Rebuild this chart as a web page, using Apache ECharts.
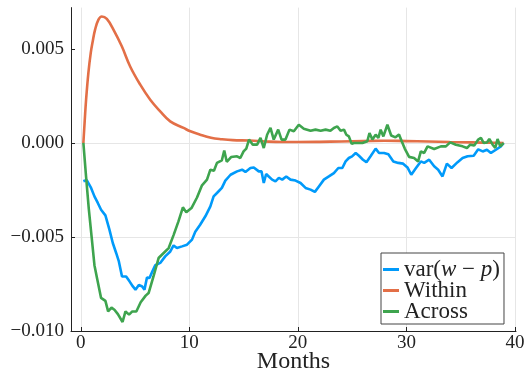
<!DOCTYPE html>
<html>
<head>
<meta charset="utf-8">
<script src="https://cdn.jsdelivr.net/npm/echarts@6/dist/echarts.min.js"></script>
<style>
  html, body { margin: 0; padding: 0; background: #fff; }
  #chart { width: 525px; height: 374px; }
</style>
</head>
<body>
<div id="chart"></div>
<script>
// Responses by months since the shock; values in units of 1e-3.
const varMonths = [0.24, 0.55, 0.95, 1.26, 1.57, 1.87, 2.27, 2.64, 2.95, 3.26, 3.51, 3.8, 4.18, 4.49, 4.8, 5.04, 5.35, 5.66, 5.87, 6.1, 6.33, 6.6, 6.86, 7.32, 7.78, 8.25, 8.55, 8.86, 9.33, 9.79, 10.25, 10.55, 11.0, 11.48, 11.94, 12.24, 12.55, 13.0, 13.32, 13.8, 14.4, 14.86, 15.17, 15.63, 15.94, 16.4, 16.65, 16.86, 17.08, 17.32, 17.63, 17.94, 18.25, 18.56, 18.93, 19.32, 19.79, 20.25, 20.71, 21.17, 21.57, 21.94, 22.4, 22.86, 23.32, 23.73, 24.1, 24.4, 24.7, 25.0, 25.33, 25.63, 26.0, 26.32, 26.7, 27.17, 27.48, 27.94, 28.34, 28.8, 29.25, 29.7, 30.1, 30.45, 30.87, 31.33, 31.64, 32.1, 32.56, 32.93, 33.33, 33.73, 34.16, 34.72, 35.18, 35.64, 36.2, 36.62, 37.03, 37.42, 37.79, 38.25, 38.7, 38.96];
const varValues = [-2.04, -1.97, -2.39, -2.84, -3.19, -3.55, -3.85, -4.61, -5.32, -5.85, -6.3, -7.1, -7.1, -7.36, -7.63, -7.8, -7.55, -7.63, -7.8, -7.16, -7.18, -6.83, -6.5, -6.38, -6.03, -5.77, -5.45, -5.59, -5.5, -5.41, -5.14, -4.72, -4.35, -3.9, -3.37, -2.84, -2.66, -2.39, -2.0, -1.69, -1.51, -1.42, -1.54, -1.33, -1.3, -1.51, -1.51, -2.13, -1.65, -1.78, -1.95, -2.04, -1.86, -1.95, -1.78, -1.95, -2.0, -2.13, -2.39, -2.48, -2.6, -2.31, -1.95, -1.78, -1.6, -1.33, -1.33, -0.98, -0.8, -0.71, -0.53, -0.68, -0.89, -1.02, -0.71, -0.3, -0.53, -0.53, -0.6, -0.98, -1.06, -1.1, -1.3, -1.69, -1.35, -0.98, -1.06, -0.89, -1.24, -1.42, -1.78, -1.1, -1.33, -1.02, -0.8, -0.71, -0.68, -0.34, -0.45, -0.36, -0.53, -0.36, -0.18, 0.0];

const withinMonths = [0.24, 0.37, 0.49, 0.7, 0.92, 1.1, 1.32, 1.63, 1.94, 2.4, 3.01, 3.78, 4.55, 5.48, 6.4, 7.32, 8.24, 9.47, 10.1, 11.0, 12.0, 13.0, 14.0, 15.6, 17.0, 18.5, 20.0, 22.0, 24.0, 26.0, 28.0, 30.0, 32.0, 34.0, 36.0, 38.0, 38.96];
const withinValues = [0.0, 1.24, 2.3, 3.72, 4.79, 5.4, 6.03, 6.56, 6.73, 6.6, 6.03, 5.14, 4.07, 3.1, 2.3, 1.68, 1.15, 0.8, 0.62, 0.44, 0.28, 0.2, 0.15, 0.13, 0.08, 0.05, 0.05, 0.06, 0.08, 0.1, 0.12, 0.1, 0.08, 0.05, 0.03, 0.01, 0.0];

const acrossMonths = [0.24, 0.49, 0.74, 1.0, 1.26, 1.5, 1.87, 2.27, 2.52, 2.83, 3.1, 3.42, 3.85, 4.12, 4.45, 4.75, 5.12, 5.52, 5.98, 6.25, 6.7, 7.17, 7.78, 8.1, 8.55, 9.0, 9.41, 9.72, 10.2, 10.71, 11.17, 11.63, 11.94, 12.27, 12.55, 13.0, 13.22, 13.45, 13.63, 13.85, 13.97, 14.4, 14.7, 15.0, 15.25, 15.5, 15.85, 16.25, 16.56, 16.86, 17.17, 17.48, 17.78, 18.19, 18.5, 18.86, 19.23, 19.63, 20.09, 20.55, 21.17, 21.63, 22.1, 22.56, 23.0, 23.32, 23.64, 23.94, 24.25, 24.47, 24.7, 24.96, 25.17, 25.48, 25.95, 26.4, 26.6, 26.87, 27.17, 27.42, 27.63, 27.88, 28.25, 28.6, 29.0, 29.32, 29.57, 29.85, 30.25, 30.71, 31.08, 31.33, 31.64, 31.95, 32.56, 33.18, 33.64, 34.04, 34.56, 35.18, 35.58, 35.88, 36.25, 36.62, 36.87, 37.12, 37.42, 37.64, 37.95, 38.19, 38.4, 38.65, 38.96];
const acrossValues = [0.0, -1.8, -3.5, -5.0, -6.5, -7.2, -8.24, -8.4, -8.96, -8.76, -8.87, -9.1, -9.52, -8.96, -9.13, -8.96, -8.96, -8.47, -8.12, -7.98, -7.1, -6.12, -5.77, -5.59, -4.9, -4.17, -3.42, -3.69, -3.46, -2.9, -2.25, -1.95, -1.42, -1.48, -1.06, -0.92, -0.4, -1.0, -1.1, -0.75, -0.85, -0.71, -0.8, -0.45, -0.3, 0.18, -0.09, -0.09, 0.27, -0.27, 0.44, 0.8, 0.18, 0.71, 0.18, 0.18, 0.71, 0.62, 0.97, 0.76, 0.65, 0.71, 0.65, 0.71, 0.65, 0.8, 0.88, 0.65, 0.71, 0.44, 0.35, -0.05, 0.0, 0.0, 0.0, 0.09, 0.53, 0.18, 0.44, 0.27, 0.71, 0.35, 0.97, 0.4, 0.3, 0.45, 0.09, -0.3, -0.74, -0.8, -0.98, -0.45, -0.53, -0.18, -0.32, -0.18, -0.18, 0.03, -0.09, -0.18, -0.27, -0.09, -0.14, 0.18, 0.27, 0.0, 0.03, 0.21, -0.09, -0.27, 0.21, -0.18, 0.0];

const xTicks = [0, 10, 20, 30, 40];
const yTicks = [-10, -5, 0, 5];

const FONT = '"Liberation Serif", "DejaVu Serif", serif';
const INK = '#222';
const GRID_GRAY = '#e6e6e6';

function pairs(xs, ys) {
  return xs.map((x, i) => [x, ys[i] / 1000]);
}

function fmtY(v) {
  const t = Math.round(v * 1e6) / 1e6;
  if (Math.abs(t) < 1e-9) return '0.000';
  return (t < 0 ? '\u2212' : '') + Math.abs(t).toFixed(3);
}

const chart = echarts.init(document.getElementById('chart'), null, { renderer: 'canvas' });

chart.setOption({
  animation: false,
  backgroundColor: '#fff',
  grid: { left: 71, right: 9, top: 7.6, bottom: 43, containLabel: false, outerBoundsMode: 'none' },
  xAxis: {
    type: 'value',
    min: -0.9,
    max: 40.1,
    name: 'Months',
    nameLocation: 'middle',
    nameGap: 19,
    nameMoveOverlap: false,
    nameTextStyle: { fontFamily: FONT, fontSize: 24, color: INK },
    axisLine: { show: true, onZero: false, lineStyle: { color: INK, width: 1 } },
    axisTick: { show: true, inside: true, length: 4, lineStyle: { color: INK }, customValues: xTicks },
    axisLabel: { fontFamily: FONT, fontSize: 19, color: INK, margin: 3, customValues: xTicks },
    splitLine: { show: true, lineStyle: { color: GRID_GRAY, width: 1 } }
  },
  yAxis: {
    type: 'value',
    min: -0.010,
    max: 0.0072,
    axisLine: { show: true, onZero: false, lineStyle: { color: INK, width: 1 } },
    axisTick: { show: true, inside: true, length: 4, lineStyle: { color: INK }, customValues: yTicks.map(v => v / 1000) },
    axisLabel: { fontFamily: FONT, fontSize: 19, color: INK, margin: 7, formatter: fmtY, customValues: yTicks.map(v => v / 1000) },
    splitLine: { show: true, showMaxLine: false, lineStyle: { color: GRID_GRAY, width: 1 } }
  },
  legend: {
    orient: 'vertical',
    left: 381,
    top: 253,
    padding: [5, 4, 1, 2],
    itemGap: -2,
    itemWidth: 16,
    itemHeight: 3,
    icon: 'rect',
    backgroundColor: '#fff',
    borderColor: '#444',
    borderWidth: 1,
    borderRadius: 0,
    formatter: function (name) {
      return name === 'var' ? 'var({i|w} \u2212 {i|p})' : name;
    },
    textStyle: {
      fontFamily: FONT,
      fontSize: 23,
      lineHeight: 20,
      color: INK,
      rich: {
        i: { fontFamily: FONT, fontSize: 23, fontStyle: 'italic', lineHeight: 20, color: INK }
      }
    },
    data: ['var', 'Within', 'Across']
  },
  series: [
    {
      name: 'var',
      type: 'line',
      data: pairs(varMonths, varValues),
      showSymbol: false,
      color: '#009AFA',
      lineStyle: { width: 2.6, color: '#009AFA' }
    },
    {
      name: 'Within',
      type: 'line',
      data: pairs(withinMonths, withinValues),
      showSymbol: false,
      smooth: 0.4,
      color: '#E36F47',
      lineStyle: { width: 2.6, color: '#E36F47' }
    },
    {
      name: 'Across',
      type: 'line',
      data: pairs(acrossMonths, acrossValues),
      showSymbol: false,
      color: '#3EA44E',
      lineStyle: { width: 2.6, color: '#3EA44E' }
    }
  ]
});
</script>
</body>
</html>
